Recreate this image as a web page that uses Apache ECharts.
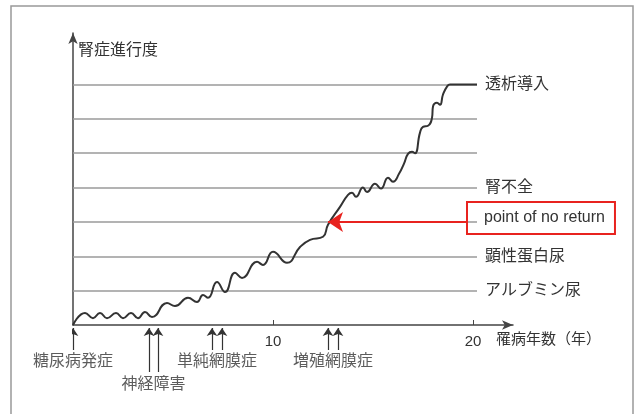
<!DOCTYPE html>
<html>
<head>
<meta charset="utf-8">
<script src="https://cdn.jsdelivr.net/npm/echarts@6/dist/echarts.min.js"></script>
<style>html,body{margin:0;padding:0;background:#fff}#c{width:635px;height:414px}</style>
</head>
<body>
<div id="c"></div>
<script>
// ---- data ----
const years = [0,0.6,1.0,1.35,1.7,2.15,2.5,2.9,3.25,3.6,3.95,4.7,5.1,5.75,6.2,6.5,6.75,7.2,7.6,8.1,8.45,9.2,9.5,10.0,10.7,11.35,11.85,12.5,12.75,13.35,13.75,13.95,14.15,14.5,14.7,15.1,15.4,15.75,16.0,16.3,16.55,16.75,16.95,17.1,17.35,17.5,17.75,17.95,18.0,18.2,18.35,18.5,18.7,18.85,20.2];
const progress = [0,0.35,0.2,0.35,0.2,0.35,0.2,0.35,0.2,0.38,0.23,0.64,0.55,0.79,0.67,0.87,0.79,1.25,0.96,1.52,1.37,1.84,1.75,2.13,1.81,2.27,2.48,2.57,2.92,3.44,3.79,3.85,3.73,4.0,3.87,4.11,3.97,4.29,4.17,4.4,4.7,4.98,5.04,5.0,5.6,5.77,5.8,6.03,6.36,6.47,6.41,6.71,6.94,7.0,7.0];
const levels = [1,2,3,4,5,6,7];
const levelLabels = ['アルブミン尿','顕性蛋白尿','point of no return','腎不全','','','透析導入'];
const xTickLabels = [10,20];
const eventNames = ['糖尿病発症','神経障害','単純網膜症','増殖網膜症'];
const eventYears = [[0],[3.8,4.25],[6.95,7.45],[12.75,13.25]];
const eventRows = [1,2,1,1];
const pointOfNoReturn = [12.75,3];
const xAxisName = '罹病年数（年）';
const yAxisName = '腎症進行度';

// ---- chart ----
const FONT = 'Liberation Sans, Noto Sans CJK JP, sans-serif';
const TXT = '#333';
const gridEnd = 20.2;
const boxStart = 19.7;

const curve = years.map((x,i)=>[x,progress[i]]);
const gridLineData = levels.map((l,i)=>{
  const item = [{coord:[0,l], name: levelLabels[i]},{coord:[gridEnd,l]}];
  if (levelLabels[i] === 'point of no return') {
    const lab = {borderColor:'#e8231f', borderWidth:2, padding:[12,10,4,17], distance:-10, offset:[0,-4]};
    item[0].label = lab; item[1].label = lab;
  }
  return item;
});

const eventLines = [];
const eventLabels = [];
eventNames.forEach((n,i)=>{
  const row = eventRows[i];
  const bottom = row === 1 ? 25 : 47;
  eventYears[i].forEach(x=>eventLines.push({coords:[[x,bottom],[x,3]]}));
  const mid = eventYears[i].reduce((a,b)=>a+b,0)/eventYears[i].length;
  eventLabels.push({name:n, value:[mid, row === 1 ? 37 : 60]});
});

const chart = echarts.init(document.getElementById('c'));
chart.setOption({
  animation:false,
  backgroundColor:'#fff',
  textStyle:{fontFamily:FONT},
  grid:[
    {left:73, width:440, top:33, height:292},
    {left:73, width:440, top:325, height:89}
  ],
  xAxis:[
    {type:'value', min:0, max:22, gridIndex:0,
     axisLine:{show:true, lineStyle:{color:'#444', width:1.5}, symbol:['none','arrow'], symbolSize:[7,11]},
     axisTick:{show:true, inside:true, length:5, customValues:xTickLabels, lineStyle:{color:'#444'}},
     axisLabel:{show:true, customValues:xTickLabels, margin:9, color:TXT, fontSize:15, fontFamily:FONT},
     splitLine:{show:false}},
    {type:'value', min:0, max:22, gridIndex:1, show:false}
  ],
  yAxis:[
    {type:'value', min:0, max:8.5, gridIndex:0,
     axisLine:{show:true, lineStyle:{color:'#444', width:1.5}, symbol:['none','arrow'], symbolSize:[7,11]},
     axisTick:{show:false}, axisLabel:{show:false}, splitLine:{show:false}},
    {type:'value', min:0, max:89, inverse:true, gridIndex:1, show:false}
  ],
  graphic:[
    {type:'rect', shape:{x:11, y:6, width:622, height:430}, style:{fill:'none', stroke:'#999', lineWidth:1.5}, silent:true},
    {type:'text', left:78, top:41, style:{text:yAxisName, font:'16px Noto Sans CJK JP', fill:TXT}},
    {type:'text', left:496, top:331, style:{text:xAxisName, font:'15px Noto Sans CJK JP', fill:TXT}}
  ],
  series:[
    {type:'line', xAxisIndex:0, yAxisIndex:0, data:curve, smooth:0.5, symbol:'none',
     lineStyle:{color:'#333', width:2}, z:3,
     markLine:{silent:true, symbol:'none', z:1,
       lineStyle:{color:'#9a9a9a', width:1.5, type:'solid'},
       label:{show:true, position:'end', distance:8, formatter:p=>p.name, color:TXT, fontSize:16, fontFamily:FONT},
       emphasis:{disabled:true},
       data:gridLineData}},
    {type:'lines', coordinateSystem:'cartesian2d', xAxisIndex:0, yAxisIndex:0, z:5,
     symbol:['none','arrow'], symbolSize:[13,15],
     lineStyle:{color:'#e8231f', width:2, opacity:1, curveness:0},
     data:[{coords:[[boxStart,pointOfNoReturn[1]],pointOfNoReturn]}]},
    {type:'lines', coordinateSystem:'cartesian2d', xAxisIndex:1, yAxisIndex:1,
     symbol:['none','arrow'], symbolSize:[6,8],
     lineStyle:{color:'#333', width:1.2, opacity:1, curveness:0},
     data:eventLines},
    {type:'scatter', xAxisIndex:1, yAxisIndex:1, symbolSize:0, data:eventLabels,
     label:{show:true, position:'inside', formatter:p=>p.name, color:TXT, fontSize:16, fontFamily:FONT}}
  ]
});
</script>
</body>
</html>
